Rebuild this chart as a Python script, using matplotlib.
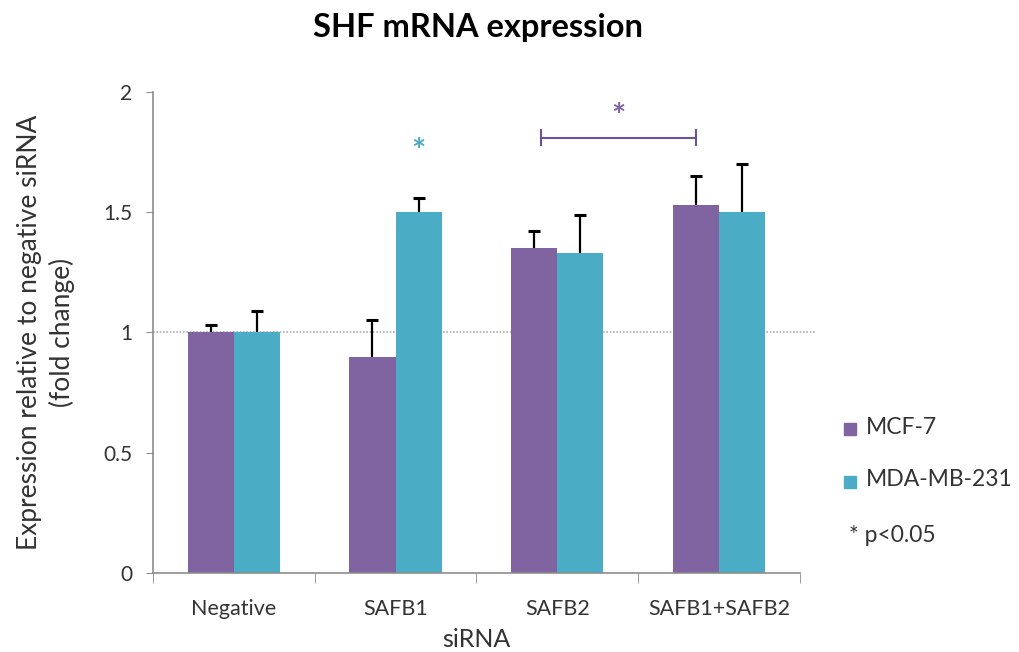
import matplotlib
matplotlib.use("Agg")
import matplotlib.pyplot as plt
import numpy as np

plt.rcParams['font.family'] = ['Lato', 'DejaVu Sans']

categories = ["Negative", "SAFB1", "SAFB2", "SAFB1+SAFB2"]
series_names = ["MCF-7", "MDA-MB-231"]
mcf7 = [1.00, 0.90, 1.35, 1.53]
mcf7_err = [0.03, 0.15, 0.07, 0.12]
mda = [1.00, 1.50, 1.33, 1.50]
mda_err = [0.09, 0.06, 0.16, 0.20]
yticks = [0, 0.5, 1, 1.5, 2]
ytick_labels = ["0", "0.5", "1", "1.5", "2"]

colors = ["#8064A2", "#4BACC6"]
bracket_color = "#6a5399"
spine_color = "#8c8c8c"
text_color = "#333333"

fig = plt.figure(figsize=(10.2, 6.52), dpi=100)
ax = fig.add_axes([0.15, 0.1212, 0.634, 0.7377])

x = np.arange(len(categories))
w = 0.285
for i, (vals, errs) in enumerate([(mcf7, mcf7_err), (mda, mda_err)]):
    pos = x + (i - 0.5) * w
    vals = np.asarray(vals)
    tops = vals + np.asarray(errs)
    ax.bar(pos, vals, width=w, color=colors[i], label=series_names[i], zorder=2)
    # upper-only error bars: stem from bar top and a cap at the end
    ax.vlines(pos, vals, tops, color='black', linewidth=1.6, zorder=3)
    ax.plot(pos, tops, linestyle='none', marker='_', markersize=9,
            markeredgewidth=2.2, color='black', zorder=3)

# reference level of 1 (negative control)
ax.plot([-0.5, 3.6], [1, 1], color='#b0b0b0', linestyle=(0, (1, 1)), linewidth=1.2,
        zorder=1, clip_on=False)

# significance markers
ax.text(1 + 0.5 * w, 1.75, "*", color=colors[1], ha='center', va='center',
        fontsize=24, fontweight='bold')
x0 = 2 - 0.5 * w + 0.04
x1 = 3 - 0.5 * w
yb = 1.81
ax.plot([x0, x1], [yb, yb], color=bracket_color, linewidth=1.5)
ax.plot([x0, x0], [yb - 0.03, yb + 0.03], color=bracket_color, linewidth=1.5)
ax.plot([x1, x1], [yb - 0.03, yb + 0.03], color=bracket_color, linewidth=1.5)
ax.text((x0 + x1) / 2, 1.895, "*", color=colors[0], ha='center', va='center',
        fontsize=24, fontweight='bold')

ax.set_xlim(-0.5, 3.5)
ax.set_ylim(0, 2)
ax.set_yticks(yticks)
ax.set_yticklabels(ytick_labels, fontsize=15, color=text_color)
ax.set_xticks(x)
ax.set_xticklabels(categories, fontsize=15.5, color=text_color)
ax.tick_params(axis='x', length=0, pad=19)
ax.tick_params(axis='y', length=5, color=spine_color, pad=10)
ax.set_xticks(np.arange(-0.5, 4, 1), minor=True)
ax.tick_params(axis='x', which='minor', length=7, color=spine_color, direction='out')

for s in ['top', 'right']:
    ax.spines[s].set_visible(False)
for s in ['left', 'bottom']:
    ax.spines[s].set_color(spine_color)
    ax.spines[s].set_linewidth(1.2)

ax.set_xlabel("siRNA", fontsize=18, labelpad=6, color=text_color)
ax.set_ylabel("Expression relative to negative siRNA\n(fold change)", fontsize=19,
              linespacing=1.35, color=text_color)
ax.yaxis.set_label_coords(-0.12, 0.5)

fig.text(0.469, 0.958, "SHF mRNA expression", ha='center', va='center',
         fontsize=23.5, fontweight='bold', color='black')

# legend entries
for i, name in enumerate(series_names):
    yy = 1 - (427 + 53 * i) / 652
    fig.patches.append(plt.Rectangle((0.8275, yy - 0.012), 0.0115, 0.018,
                                     transform=fig.transFigure, color=colors[i]))
    fig.text(0.8485, yy, name, ha='left', va='center', fontsize=16.5, color=text_color)
fig.text(0.832, 1 - 535 / 652, "* p<0.05", ha='left', va='center', fontsize=16.5,
         color=text_color)

fig.savefig("out.png", dpi=100)
